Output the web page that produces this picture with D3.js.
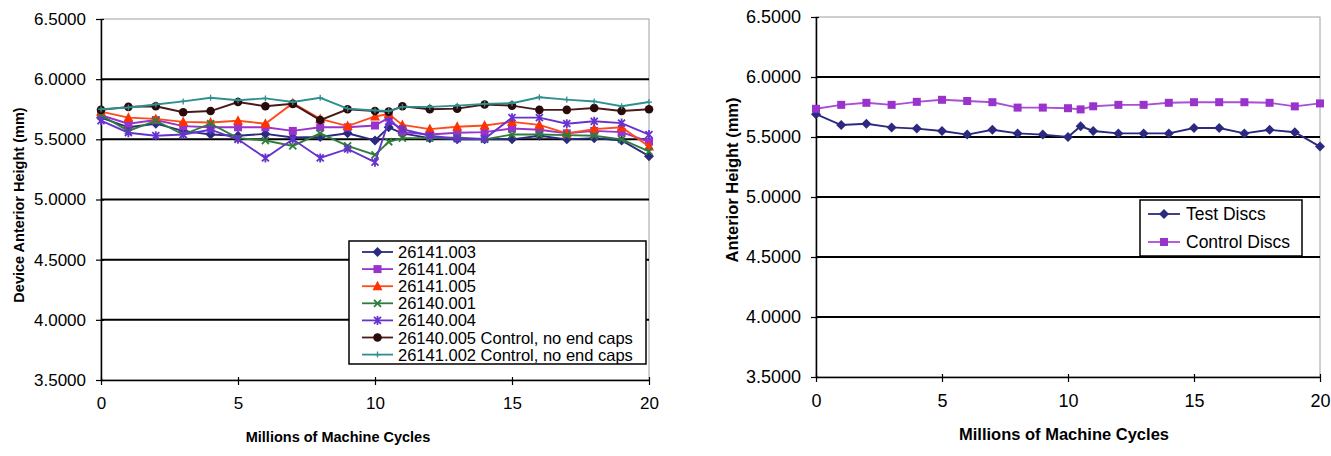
<!DOCTYPE html>
<html>
<head>
<meta charset="utf-8">
<script src="https://cdn.jsdelivr.net/npm/d3@7/dist/d3.min.js"></script>
<style>
  html, body { margin: 0; padding: 0; background: #fff; }
  svg { display: block; font-family: Arial, "Liberation Sans", sans-serif; }
</style>
</head>
<body>
<svg id="chart" width="1331" height="456"></svg>
<script>
// Millions of machine cycles at each measurement
const cycles = [0, 1, 2, 3, 4, 5, 6, 7, 8, 9, 10, 10.5, 11, 12, 13, 14, 15, 16, 17, 18, 19, 20];

// Device anterior height (mm), individual devices
const s26141_003 = [5.68, 5.60, 5.63, 5.57, 5.54, 5.53, 5.545, 5.515, 5.52, 5.55, 5.49, 5.60, 5.55, 5.51, 5.50, 5.50, 5.50, 5.53, 5.50, 5.51, 5.49, 5.36];
const s26141_004 = [5.70, 5.63, 5.66, 5.61, 5.60, 5.60, 5.60, 5.57, 5.60, 5.60, 5.615, 5.68, 5.56, 5.54, 5.555, 5.56, 5.59, 5.58, 5.55, 5.57, 5.56, 5.48];
const s26141_005 = [5.73, 5.68, 5.67, 5.645, 5.64, 5.655, 5.63, 5.80, 5.67, 5.61, 5.69, 5.71, 5.62, 5.585, 5.605, 5.615, 5.645, 5.62, 5.55, 5.585, 5.60, 5.44];
const s26140_001 = [5.70, 5.57, 5.655, 5.54, 5.63, 5.51, 5.49, 5.445, 5.55, 5.445, 5.37, 5.48, 5.51, 5.51, 5.515, 5.50, 5.54, 5.54, 5.535, 5.53, 5.50, 5.40];
const s26140_004 = [5.655, 5.555, 5.53, 5.54, 5.58, 5.50, 5.345, 5.50, 5.345, 5.42, 5.31, 5.65, 5.585, 5.53, 5.505, 5.505, 5.68, 5.68, 5.63, 5.65, 5.635, 5.54];
const s26140_005 = [5.745, 5.77, 5.775, 5.725, 5.735, 5.81, 5.775, 5.795, 5.66, 5.75, 5.735, 5.73, 5.775, 5.75, 5.755, 5.79, 5.78, 5.745, 5.745, 5.76, 5.735, 5.75];
const s26141_002 = [5.75, 5.765, 5.79, 5.815, 5.845, 5.825, 5.84, 5.81, 5.845, 5.755, 5.74, 5.735, 5.77, 5.77, 5.78, 5.795, 5.80, 5.85, 5.83, 5.815, 5.775, 5.81];

// Group averages (mm)
const testDiscs    = [5.69, 5.60, 5.61, 5.58, 5.57, 5.55, 5.52, 5.56, 5.53, 5.52, 5.50, 5.59, 5.55, 5.53, 5.53, 5.53, 5.575, 5.575, 5.53, 5.56, 5.54, 5.42];
const controlDiscs = [5.735, 5.768, 5.785, 5.768, 5.793, 5.81, 5.80, 5.79, 5.745, 5.745, 5.74, 5.73, 5.756, 5.768, 5.768, 5.785, 5.79, 5.79, 5.79, 5.785, 5.755, 5.78];

// Axis ticks
const yTicks = [3.5, 4.0, 4.5, 5.0, 5.5, 6.0, 6.5];
const xTicks = [0, 5, 10, 15, 20];

const leftSeries = [
  { name: "26141.003", values: s26141_003, color: "#2b2a80", line: "#2b2a80", marker: "diamond" },
  { name: "26141.004", values: s26141_004, color: "#9933cc", line: "#9933cc", marker: "square" },
  { name: "26141.005", values: s26141_005, color: "#ff3300", line: "#ff4a1a", marker: "triangle" },
  { name: "26140.001", values: s26140_001, color: "#2e7d3c", line: "#2e7d3c", marker: "cross" },
  { name: "26140.004", values: s26140_004, color: "#6633cc", line: "#6633cc", marker: "star" },
  { name: "26140.005 Control, no end caps", values: s26140_005, color: "#2a0a0a", line: "#4a1a1a", marker: "circle" },
  { name: "26141.002 Control, no end caps", values: s26141_002, color: "#2f8f8f", line: "#2f8f8f", marker: "plus" }
];

const rightSeries = [
  { name: "Test Discs", values: testDiscs, color: "#2b2a80", line: "#2b2a80", marker: "diamond" },
  { name: "Control Discs", values: controlDiscs, color: "#9933cc", line: "#a94fd6", marker: "square" }
];

const svg = d3.select("#chart");

function drawMarker(g, type, x, y, color) {
  if (type === "circle") {
    g.append("circle").attr("cx", x).attr("cy", y).attr("r", 4.3).attr("fill", color);
  } else if (type === "square") {
    g.append("rect").attr("x", x - 4).attr("y", y - 4).attr("width", 8).attr("height", 8).attr("fill", color);
  } else if (type === "diamond") {
    g.append("path").attr("d", `M${x},${y - 5}L${x + 5},${y}L${x},${y + 5}L${x - 5},${y}Z`).attr("fill", color);
  } else if (type === "triangle") {
    g.append("path").attr("d", `M${x},${y - 5.5}L${x + 5},${y + 4}L${x - 5},${y + 4}Z`).attr("fill", color);
  } else if (type === "cross") {
    g.append("path").attr("d", `M${x - 3.5},${y - 3.5}L${x + 3.5},${y + 3.5}M${x - 3.5},${y + 3.5}L${x + 3.5},${y - 3.5}`)
      .attr("stroke", color).attr("stroke-width", 1.8);
  } else if (type === "star") {
    g.append("path").attr("d", `M${x - 3.5},${y - 3.5}L${x + 3.5},${y + 3.5}M${x - 3.5},${y + 3.5}L${x + 3.5},${y - 3.5}M${x},${y - 4.5}L${x},${y + 4.5}`)
      .attr("stroke", color).attr("stroke-width", 1.8);
  } else if (type === "plus") {
    g.append("path").attr("d", `M${x - 3},${y}L${x + 3},${y}M${x},${y - 3}L${x},${y + 3}`)
      .attr("stroke", color).attr("stroke-width", 1.3);
  }
}

function drawPanel(cfg) {
  const x = d3.scaleLinear().domain([0, 20]).range([cfg.x0, cfg.x1]);
  const y = d3.scaleLinear().domain([3.5, 6.5]).range([cfg.y0, cfg.y1]);
  const g = svg.append("g");

  // plot area border
  g.append("rect").attr("x", cfg.x0).attr("y", cfg.y1).attr("width", cfg.x1 - cfg.x0).attr("height", cfg.y0 - cfg.y1)
    .attr("fill", "none").attr("stroke", "#a0a0a0").attr("stroke-width", 1);

  // horizontal gridlines
  g.selectAll(".grid").data(yTicks.filter(t => t > 3.5 && t < 6.5)).join("line")
    .attr("x1", cfg.x0).attr("x2", cfg.x1)
    .attr("y1", d => y(d)).attr("y2", d => y(d))
    .attr("stroke", "#000").attr("stroke-width", 2);

  // y axis
  const yAxis = d3.axisLeft(y).tickValues(yTicks).tickFormat(d3.format(".4f")).tickSizeInner(5).tickSizeOuter(0).tickPadding(10);
  const ya = g.append("g").attr("transform", `translate(${cfg.x0},0)`).call(yAxis);
  ya.select(".domain").attr("stroke", "#000").attr("stroke-width", 1.5);
  ya.selectAll(".tick line").attr("stroke", "#000").attr("stroke-width", 1.2).attr("x2", -5).attr("x1", 3);
  ya.selectAll(".tick text").attr("font-size", cfg.tickFont).attr("fill", "#000")
    .attr("font-family", "Arial, 'Liberation Sans', sans-serif");

  // x axis
  const xAxis = d3.axisBottom(x).tickValues(xTicks).tickFormat(d3.format("d")).tickSizeInner(5).tickSizeOuter(0).tickPadding(12);
  const xa = g.append("g").attr("transform", `translate(0,${cfg.y0})`).call(xAxis);
  xa.select(".domain").attr("stroke", "#000").attr("stroke-width", 1.5);
  xa.selectAll(".tick line").attr("stroke", "#000").attr("stroke-width", 1.2).attr("y1", -3).attr("y2", 5);
  xa.selectAll(".tick text").attr("font-size", cfg.tickFont).attr("fill", "#000")
    .attr("font-family", "Arial, 'Liberation Sans', sans-serif");

  // axis titles
  g.append("text").attr("x", cfg.xTitleX).attr("y", cfg.xTitleY).attr("text-anchor", "middle")
    .attr("font-size", cfg.titleFont).attr("font-weight", "bold").attr("fill", "#000").text("Millions of Machine Cycles");
  g.append("text").attr("transform", `translate(${cfg.yTitleX},${cfg.yTitleY}) rotate(-90)`).attr("text-anchor", "middle")
    .attr("dominant-baseline", "central")
    .attr("font-size", cfg.yTitleFont).attr("font-weight", "bold").attr("fill", "#000").text(cfg.yTitle);

  // series
  const line = d3.line().x((d, i) => x(cycles[i])).y(d => y(d));
  cfg.series.forEach(s => {
    g.append("path").datum(s.values).attr("d", line)
      .attr("fill", "none").attr("stroke", s.line).attr("stroke-width", 1.9);
    const mg = g.append("g");
    s.values.forEach((v, i) => drawMarker(mg, s.marker, x(cycles[i]), y(v), s.color));
  });

  // legend
  const L = cfg.legend;
  const lg = g.append("g");
  lg.append("rect").attr("x", L.x).attr("y", L.y).attr("width", L.w).attr("height", L.h)
    .attr("fill", "#fff").attr("stroke", "#000").attr("stroke-width", 1.5);
  cfg.series.forEach((s, i) => {
    const ly = L.y + L.first + i * L.step;
    lg.append("line").attr("x1", L.x + L.lx0).attr("x2", L.x + L.lx1).attr("y1", ly).attr("y2", ly)
      .attr("stroke", s.line).attr("stroke-width", 1.8);
    drawMarker(lg, s.marker, L.x + (L.lx0 + L.lx1) / 2, ly, s.color);
    lg.append("text").attr("x", L.x + L.tx).attr("y", ly).attr("dominant-baseline", "central")
      .attr("font-size", L.font).attr("fill", "#000").text(s.name);
  });
}

drawPanel({
  x0: 101, x1: 649, y0: 380, y1: 19,
  tickFont: 17, titleFont: 14.5, yTitleFont: 14.5,
  xTitleX: 338, xTitleY: 442,
  yTitleX: 19, yTitleY: 205,
  yTitle: "Device Anterior Height (mm)",
  series: leftSeries,
  legend: { x: 349, y: 241, w: 297, h: 123, first: 11, step: 17.1, lx0: 13, lx1: 44, tx: 49, font: 16.5 }
});

drawPanel({
  x0: 816, x1: 1320, y0: 377, y1: 17,
  tickFont: 18, titleFont: 16.5, yTitleFont: 16.5,
  xTitleX: 1064, xTitleY: 440,
  yTitleX: 732, yTitleY: 180,
  yTitle: "Anterior Height (mm)",
  series: rightSeries,
  legend: { x: 1140, y: 200, w: 162, h: 56, first: 14, step: 28, lx0: 8, lx1: 40, tx: 46, font: 17.5 }
});
</script>
</body>
</html>
